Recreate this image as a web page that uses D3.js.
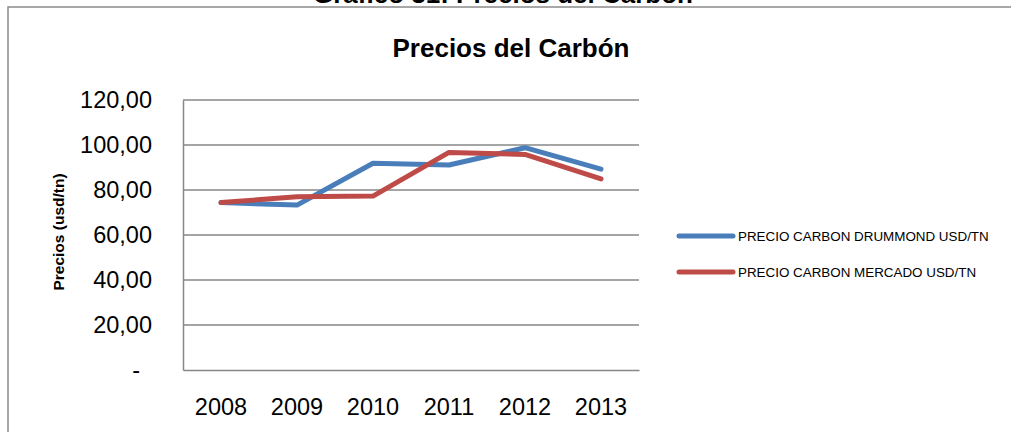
<!DOCTYPE html>
<html lang="es">
<head>
  <meta charset="UTF-8">
  <title>Precios del Carbón</title>
  <script src="https://d3js.org/d3.v7.min.js"></script>
  <style>
    body, html { margin: 0; padding: 0; background: #fff; overflow: hidden; }
    svg { display: block; font-family: "Liberation Sans", Arial, sans-serif; }
    .grid line { stroke: #878787; stroke-width: 1.5; }
  </style>
</head>
<body>
  <div id="chart"></div>

  <script>
    // Data
    const years = ['2008', '2009', '2010', '2011', '2012', '2013'];
    const drummond = [74.4, 73.3, 91.9, 91.1, 98.8, 89.3];
    const mercado = [74.4, 77.0, 77.3, 96.7, 95.8, 84.9];
    const yTicks = [0, 20, 40, 60, 80, 100, 120];
    const seriesNames = ['PRECIO CARBON DRUMMOND USD/TN', 'PRECIO CARBON MERCADO USD/TN'];
    const seriesColors = ['#4A7EBB', '#BE4B48'];

    const W = 1011, H = 432;
    const plot = { left: 183, right: 639, top: 100, bottom: 370 };

    const svg = d3.select('#chart').append('svg')
      .attr('width', W)
      .attr('height', H);

    // caption of the document, cut by the top of the picture
    svg.append('text')
      .attr('x', 503).attr('y', 3)
      .attr('text-anchor', 'middle')
      .attr('font-weight', 'bold')
      .attr('font-size', 26)
      .text('Gráfico 31: Precios del Carbón');

    // chart area border
    svg.append('rect')
      .attr('x', 8).attr('y', 7)
      .attr('width', W + 20).attr('height', H + 20)
      .attr('fill', 'none')
      .attr('stroke', '#8a8a8a')
      .attr('stroke-width', 1.5);

    svg.append('text')
      .attr('x', 511).attr('y', 57)
      .attr('text-anchor', 'middle')
      .attr('font-weight', 'bold')
      .attr('font-size', 26)
      .text('Precios del Carbón');

    const x = d3.scaleBand().domain(years).range([plot.left, plot.right]);
    const y = d3.scaleLinear().domain([0, 120]).range([plot.bottom, plot.top]);

    const esLocale = d3.formatLocale({ decimal: ',', thousands: '.', grouping: [3], currency: ['$', ''] });
    const fmt = esLocale.format('.2f');

    // horizontal gridlines
    svg.append('g')
      .attr('class', 'grid')
      .selectAll('line')
      .data(yTicks.filter(d => d > 0))
      .enter().append('line')
      .attr('x1', plot.left).attr('x2', plot.right)
      .attr('y1', d => y(d)).attr('y2', d => y(d));

    // y axis
    const yAxis = svg.append('g')
      .attr('transform', `translate(${plot.left},0)`)
      .call(d3.axisLeft(y).tickValues(yTicks).tickSize(0).tickPadding(31)
        .tickFormat(d => d === 0 ? '-' : fmt(d)));
    yAxis.select('.domain').attr('stroke', '#878787').attr('stroke-width', 1.5);
    yAxis.selectAll('text')
      .attr('font-size', 23.5)
      .attr('fill', '#000')
      .attr('font-family', '"Liberation Sans", Arial, sans-serif')
      .attr('dx', d => d === 0 ? -12 : 0);

    // x axis
    const xAxis = svg.append('g')
      .attr('transform', `translate(0,${plot.bottom})`)
      .call(d3.axisBottom(x).tickSize(0).tickPadding(28));
    xAxis.select('.domain').attr('stroke', '#878787').attr('stroke-width', 1.5);
    xAxis.selectAll('text')
      .attr('font-size', 23.5)
      .attr('fill', '#000')
      .attr('font-family', '"Liberation Sans", Arial, sans-serif');

    // y axis title
    svg.append('text')
      .attr('transform', 'translate(64,232) rotate(-90)')
      .attr('text-anchor', 'middle')
      .attr('font-weight', 'bold')
      .attr('font-size', 15.5)
      .text('Precios (usd/tn)');

    // lines
    const line = d3.line()
      .x((d, i) => x(years[i]) + x.bandwidth() / 2)
      .y(d => y(d));

    [drummond, mercado].forEach((vals, i) => {
      svg.append('path')
        .datum(vals)
        .attr('d', line)
        .attr('fill', 'none')
        .attr('stroke', seriesColors[i])
        .attr('stroke-width', 5)
        .attr('stroke-linecap', 'round')
        .attr('stroke-linejoin', 'round');
    });

    // legend
    const legend = svg.append('g').attr('transform', 'translate(679,236)');
    seriesNames.forEach((name, i) => {
      const g = legend.append('g').attr('transform', `translate(0,${i * 36})`);
      g.append('line')
        .attr('x1', 0).attr('x2', 54)
        .attr('stroke', seriesColors[i])
        .attr('stroke-width', 5)
        .attr('stroke-linecap', 'round');
      g.append('text')
        .attr('x', 59).attr('y', 5)
        .attr('font-size', 13.4)
        .text(name);
    });
  </script>
</body>
</html>
